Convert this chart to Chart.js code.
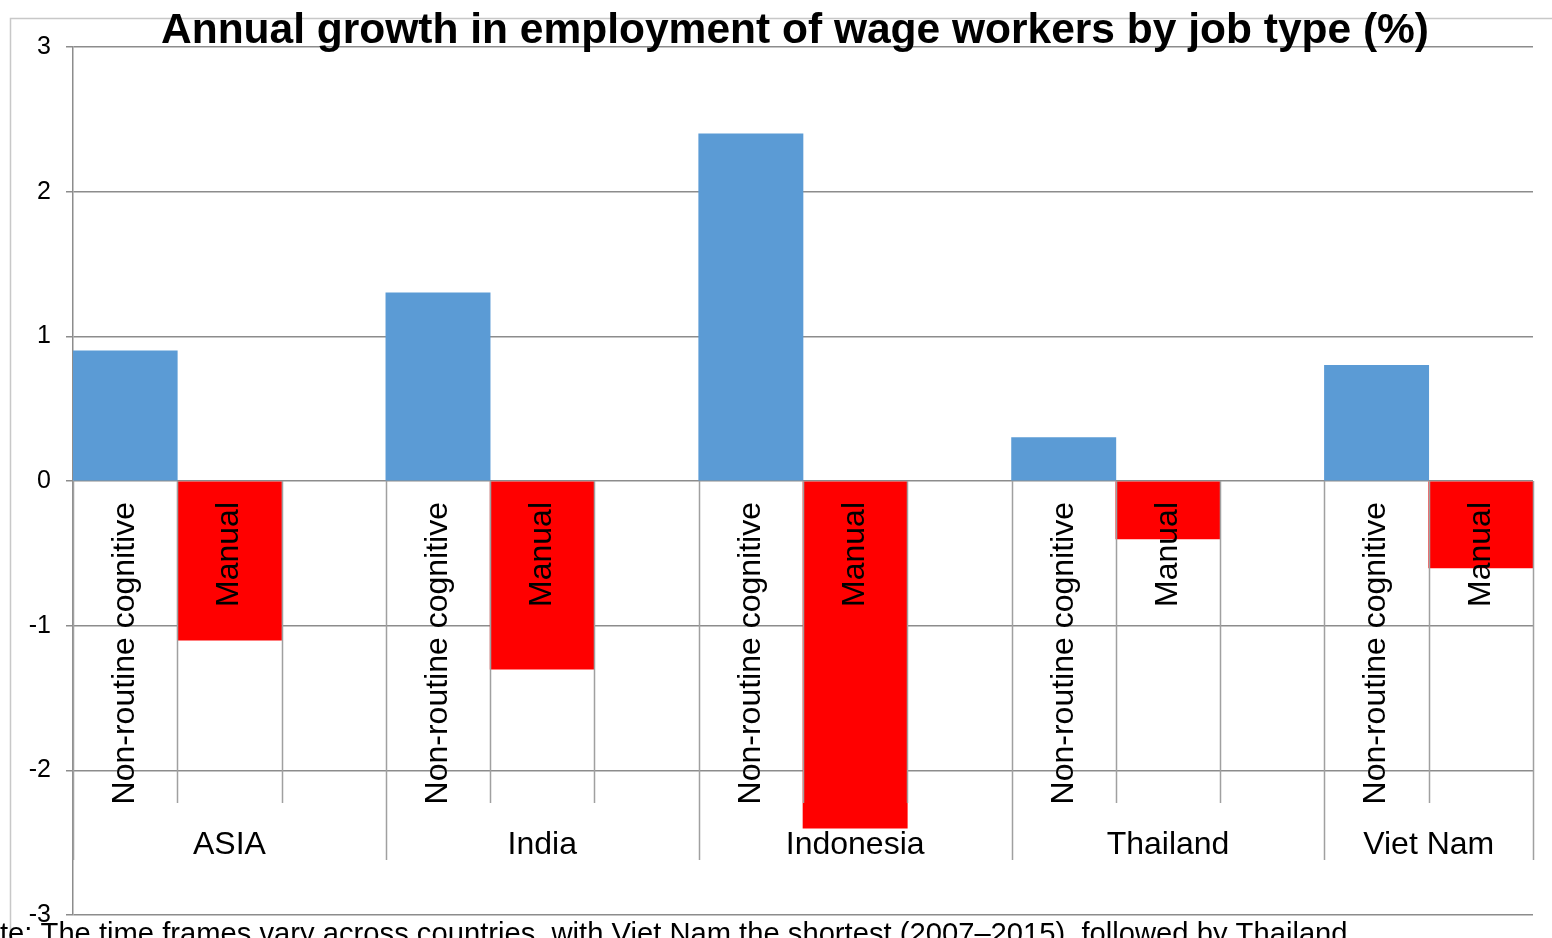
<!DOCTYPE html>
<html lang="en">
<head>
    <meta charset="UTF-8">
    <title>Annual growth in employment of wage workers by job type (%)</title>
    <script src="https://cdn.jsdelivr.net/npm/chart.js@4"></script>
    <style>
        body { margin: 0; background: #fff; }
        #wrap { width: 1552px; height: 938px; position: relative; }
    </style>
</head>
<body>
    <div id="wrap"><canvas id="chart"></canvas></div>

    <script>
        // data
        const groups = ['ASIA', 'India', 'Indonesia', 'Thailand', 'Viet Nam'];
        const jobTypes = ['Non-routine cognitive', 'Manual'];
        const cognitive = [0.9, 1.3, 2.4, 0.3, 0.8];
        const manual = [-1.1, -1.3, -2.4, -0.4, -0.6];
        const yTicks = [-3, -2, -1, 0, 1, 2, 3];
        const chartTitle = 'Annual growth in employment of wage workers by job type (%)';
        const note = 'Note: The time frames vary across countries, with Viet Nam the shortest (2007\u20132015), followed by Thailand';

        const FONT = "'Liberation Sans', Arial, sans-serif";

        // each country gets a slot per job type plus an empty one (not after the last)
        const slotLabels = [], slotGroup = [], cogData = [], manData = [];
        groups.forEach((g, i) => {
            const n = i < groups.length - 1 ? 3 : 2;
            for (let k = 0; k < n; k++) {
                slotLabels.push(k < 2 ? jobTypes[k] : '');
                slotGroup.push(i);
                cogData.push(k === 0 ? cognitive[i] : null);
                manData.push(k === 1 ? manual[i] : null);
            }
        });

        const GRID = '#8c8c8c';

        const decor = {
            id: 'decor',
            beforeDraw(chart) {
                const c = chart.ctx;
                c.save();
                c.strokeStyle = '#c8c8c8';
                c.lineWidth = 1.5;
                c.beginPath();
                c.moveTo(10.5, 938);
                c.lineTo(10.5, 18.5);
                c.lineTo(1552, 18.5);
                c.stroke();
                c.restore();
            },
            afterDatasetsDraw(chart) {
                const c = chart.ctx, x = chart.scales.x, y = chart.scales.y;
                const y0 = y.getPixelForValue(0);
                const half = (x.getPixelForValue(1) - x.getPixelForValue(0)) / 2;
                c.save();
                c.strokeStyle = '#a0a0a0';
                c.lineWidth = 1.5;
                // slot boundaries
                for (let i = 0; i <= slotLabels.length; i++) {
                    const px = Math.round(i < slotLabels.length ? x.getPixelForValue(i) - half : x.getPixelForValue(i - 1) + half) + 0.5;
                    const isGroupEdge = i === 0 || i === slotLabels.length || slotGroup[i] !== slotGroup[i - 1];
                    c.beginPath();
                    c.moveTo(px, y0);
                    c.lineTo(px, y0 + (isGroupEdge ? 379 : 322));
                    c.stroke();
                }
                // rotated job type labels
                c.fillStyle = '#000';
                c.font = '32px ' + FONT;
                c.textAlign = 'right';
                c.textBaseline = 'middle';
                slotLabels.forEach((lab, i) => {
                    if (!lab) return;
                    c.save();
                    c.translate(x.getPixelForValue(i), y0 + 21);
                    c.rotate(-Math.PI / 2);
                    c.fillText(lab, 0, 0);
                    c.restore();
                });
                // country labels
                c.textAlign = 'center';
                groups.forEach((g, gi) => {
                    const idx = slotGroup.map((s, i) => s === gi ? i : -1).filter(i => i >= 0);
                    const l = x.getPixelForValue(idx[0]) - half;
                    const r = x.getPixelForValue(idx[idx.length - 1]) + half;
                    c.fillText(g, (l + r) / 2, y0 + 364);
                });
                c.restore();
            },
            afterDraw(chart) {
                const c = chart.ctx;
                c.save();
                c.fillStyle = '#000';
                c.textBaseline = 'alphabetic';
                c.font = 'bold 42.5px ' + FONT;
                c.textAlign = 'center';
                c.fillText(chartTitle, 795, 43);
                c.font = '29.2px ' + FONT;
                c.textAlign = 'left';
                c.fillText(note, -c.measureText('No').width, 943);
                c.restore();
            }
        };

        new Chart(document.getElementById('chart'), {
            type: 'bar',
            data: {
                labels: slotLabels,
                datasets: [
                    { label: jobTypes[0], data: cogData, backgroundColor: '#5b9bd5', grouped: false,
                      categoryPercentage: 1, barPercentage: 1 },
                    { label: jobTypes[1], data: manData, backgroundColor: '#ff0000', grouped: false,
                      categoryPercentage: 1, barPercentage: 1 }
                ]
            },
            options: {
                responsive: true,
                maintainAspectRatio: false,
                animation: false,
                layout: { padding: { top: 47, bottom: 23, right: 19, left: 0 } },
                plugins: { legend: { display: false }, title: { display: false }, tooltip: { enabled: false } },
                scales: {
                    x: { display: false },
                    y: {
                        min: yTicks[0],
                        max: yTicks[yTicks.length - 1],
                        afterFit(s) { s.width = 73; s.paddingTop = 0; s.paddingBottom = 0; },
                        afterBuildTicks(s) { s.ticks = yTicks.map(v => ({ value: v })); },
                        ticks: { color: '#000', font: { family: FONT, size: 25 }, padding: 15 },
                        grid: { color: GRID, lineWidth: 1.5, tickLength: 7, tickColor: GRID },
                        border: { color: GRID, width: 1.5 }
                    }
                }
            },
            plugins: [decor]
        });
    </script>
</body>
</html>
